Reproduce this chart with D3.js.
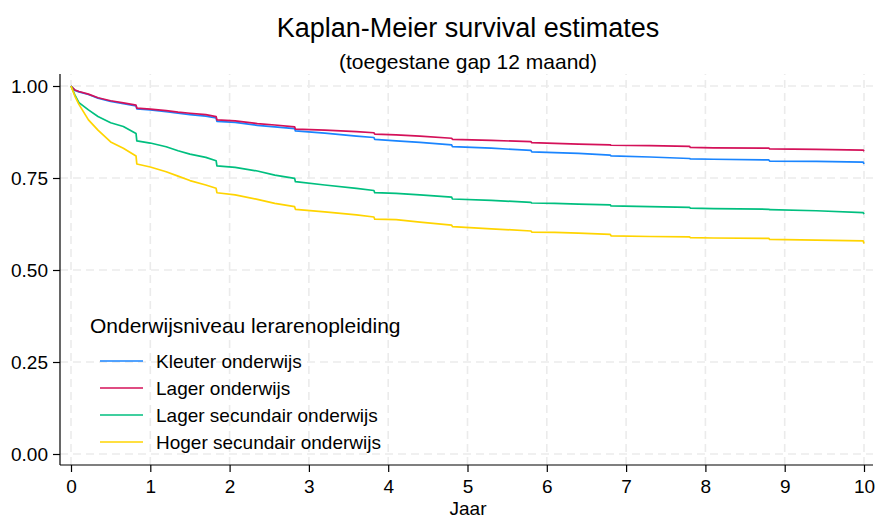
<!DOCTYPE html>
<html>
<head>
<meta charset="utf-8">
<script src="https://cdn.jsdelivr.net/npm/d3@7"></script>
<style>
  body { margin: 0; background: #fff; }
  text { font-family: "Liberation Sans", Arial, sans-serif; fill: #000; }
</style>
</head>
<body>
<div class="chart"></div>
<script>
// Kaplan-Meier curves (years, survival)
var times = [0, 0.05, 0.1, 0.22, 0.34, 0.5, 0.66, 0.82, 0.83, 1.0, 1.2, 1.35, 1.5, 1.7, 1.83, 1.84,
  2.07, 2.35, 2.57, 2.82, 2.83, 3.2, 3.6, 3.82, 3.83, 4.1, 4.4, 4.8, 4.81, 5.3, 5.8, 5.81,
  6.1, 6.4, 6.8, 6.81, 7.3, 7.8, 7.81, 8.1, 8.8, 8.81, 9.4, 9.99, 10];

var kleuter = [1.0, 0.988, 0.984, 0.977, 0.967, 0.958, 0.952, 0.946, 0.938, 0.935, 0.930, 0.926, 0.922, 0.918, 0.913, 0.904,
  0.901, 0.893, 0.889, 0.884, 0.878, 0.872, 0.864, 0.860, 0.855, 0.851, 0.847, 0.840, 0.835, 0.831, 0.825, 0.821,
  0.819, 0.817, 0.812, 0.810, 0.807, 0.803, 0.802, 0.801, 0.799, 0.796, 0.795, 0.793, 0.788];

var lager = [1.0, 0.989, 0.985, 0.978, 0.968, 0.960, 0.954, 0.948, 0.940, 0.937, 0.933, 0.929, 0.926, 0.922, 0.917, 0.908,
  0.905, 0.898, 0.894, 0.889, 0.883, 0.880, 0.876, 0.873, 0.869, 0.867, 0.864, 0.858, 0.855, 0.852, 0.849, 0.846,
  0.844, 0.842, 0.840, 0.839, 0.838, 0.836, 0.833, 0.832, 0.831, 0.829, 0.828, 0.826, 0.823];

var lagerSec = [1.0, 0.975, 0.955, 0.935, 0.917, 0.900, 0.890, 0.871, 0.851, 0.845, 0.835, 0.824, 0.815, 0.806, 0.797, 0.783,
  0.779, 0.769, 0.758, 0.749, 0.740, 0.731, 0.722, 0.716, 0.710, 0.708, 0.704, 0.698, 0.693, 0.689, 0.684, 0.682,
  0.681, 0.679, 0.677, 0.674, 0.672, 0.670, 0.668, 0.667, 0.665, 0.664, 0.661, 0.656, 0.652];

var hogerSec = [1.0, 0.972, 0.950, 0.908, 0.880, 0.848, 0.831, 0.810, 0.788, 0.780, 0.767, 0.755, 0.743, 0.731, 0.722, 0.710,
  0.704, 0.692, 0.681, 0.672, 0.665, 0.658, 0.650, 0.644, 0.638, 0.637, 0.630, 0.622, 0.618, 0.612, 0.606, 0.603,
  0.602, 0.600, 0.597, 0.593, 0.591, 0.590, 0.588, 0.587, 0.586, 0.583, 0.581, 0.579, 0.572];

var seriesNames = ["Kleuter onderwijs", "Lager onderwijs", "Lager secundair onderwijs", "Hoger secundair onderwijs"];
var seriesValues = [kleuter, lager, lagerSec, hogerSec];
var colors = ["#1a85ff", "#d41159", "#00bf7f", "#ffd400"];

var xTicks = [0, 1, 2, 3, 4, 5, 6, 7, 8, 9, 10];
var yTicks = [0, 0.25, 0.5, 0.75, 1];

var svgWidth = 875;
var svgHeight = 521;

var svg = d3.select(".chart")
  .append("svg")
  .attr("width", svgWidth)
  .attr("height", svgHeight);

// plot region
var axisLeftX = 60, axisBottomY = 465, plotTop = 74, plotRight = 873;

var x = d3.scaleLinear().domain([0, 10]).range([71, 864]);
var y = d3.scaleLinear().domain([0, 1]).range([454, 86]);

// grid
var grid = svg.append("g")
  .attr("stroke", "#ebebeb")
  .attr("stroke-width", 1.6)
  .attr("stroke-dasharray", "8,5");

grid.selectAll(".vg").data(xTicks).enter().append("line")
  .attr("x1", d => x(d)).attr("x2", d => x(d))
  .attr("y1", axisBottomY).attr("y2", plotTop);

grid.selectAll(".hg").data(yTicks).enter().append("line")
  .attr("x1", axisLeftX).attr("x2", plotRight)
  .attr("y1", d => y(d)).attr("y2", d => y(d));

// curves
var line = d3.line()
  .x(d => x(d[0]))
  .y(d => y(d[1]));

seriesValues.forEach(function (vals, i) {
  var pts = times.map((t, j) => [t, vals[j]]);
  svg.append("path")
    .datum(pts)
    .attr("fill", "none")
    .attr("stroke", colors[i])
    .attr("stroke-width", 1.7)
    .attr("stroke-linejoin", "round")
    .attr("d", line);
});

// axes
var bottomAxis = d3.axisBottom(x).tickValues(xTicks).tickSize(7).tickPadding(8).tickFormat(d3.format("d"));
var leftAxis = d3.axisLeft(y).tickValues(yTicks).tickSize(7).tickPadding(5).tickFormat(d3.format(".2f"));

var gx = svg.append("g")
  .attr("transform", `translate(0,${axisBottomY})`)
  .call(bottomAxis);
gx.select(".domain").attr("d", `M${axisLeftX},0H${plotRight}`);

var gy = svg.append("g")
  .attr("transform", `translate(${axisLeftX},0)`)
  .call(leftAxis);
gy.select(".domain").attr("d", `M0,${axisBottomY}V${plotTop}`);

svg.selectAll(".tick text")
  .style("font-family", '"Liberation Sans", Arial, sans-serif')
  .style("font-size", "19px")
  .attr("fill", "#000");
svg.selectAll(".domain, .tick line").attr("stroke", "#000").attr("stroke-width", 1.2);

// titles
svg.append("text")
  .attr("x", 468).attr("y", 37)
  .attr("text-anchor", "middle")
  .style("font-size", "27px")
  .text("Kaplan-Meier survival estimates");

svg.append("text")
  .attr("x", 468).attr("y", 69)
  .attr("text-anchor", "middle")
  .style("font-size", "21px")
  .text("(toegestane gap 12 maand)");

svg.append("text")
  .attr("x", 468).attr("y", 515)
  .attr("text-anchor", "middle")
  .style("font-size", "19px")
  .text("Jaar");

// legend
var legend = svg.append("g");
legend.append("text")
  .attr("x", 90).attr("y", 333)
  .style("font-size", "21px")
  .text("Onderwijsniveau lerarenopleiding");

seriesNames.forEach(function (name, i) {
  var ly = 361 + i * 27;
  legend.append("line")
    .attr("x1", 100).attr("x2", 143)
    .attr("y1", ly).attr("y2", ly)
    .attr("stroke", colors[i])
    .attr("stroke-width", 1.7);
  legend.append("text")
    .attr("x", 156).attr("y", ly + 7)
    .style("font-size", "19px")
    .text(name);
});
</script>
</body>
</html>
